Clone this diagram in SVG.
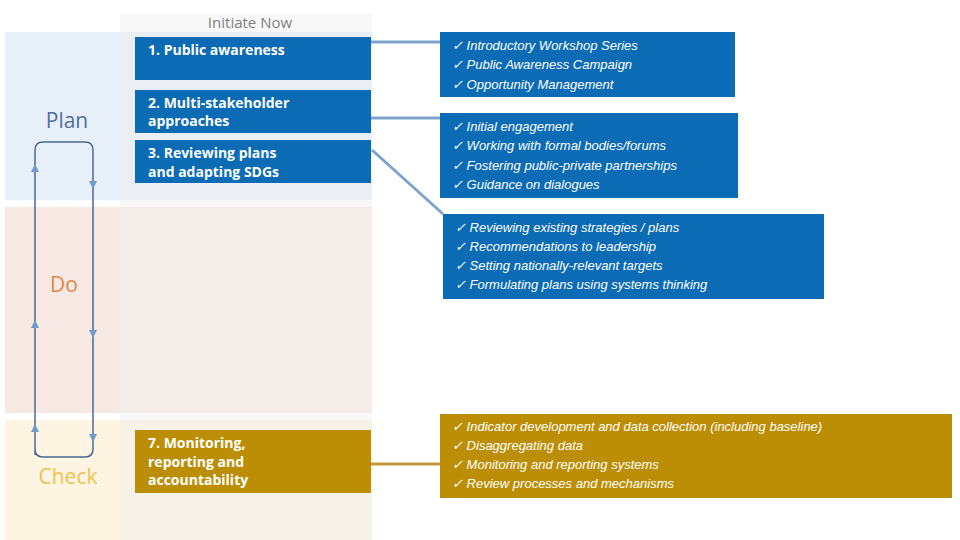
<svg xmlns="http://www.w3.org/2000/svg" width="960" height="540" viewBox="0 0 960 540">
<style>
.box{fill:#0b6bb5}
.gold{fill:#bc8e05}
.bt{font-family:"Open Sans","DejaVu Sans",sans-serif;font-weight:bold;font-size:14px;fill:#fff}
.it{font-family:"Liberation Sans",Arial,sans-serif;font-style:italic;font-size:13px;fill:#fff}
.ph{font-family:"Open Sans","DejaVu Sans",sans-serif;font-size:21px}
.ln{stroke:#7fa3cc;stroke-width:3;fill:none}
.loop{stroke:#4a6a96;stroke-width:1.5;fill:none}
</style>
<defs>
<marker id="ah" markerWidth="8" markerHeight="8" refX="4" refY="4" orient="auto" markerUnits="userSpaceOnUse"><path d="M0,0 L8,4 L0,8 z" fill="#6f9acb"/></marker>
</defs>
<rect width="960" height="540" fill="#fff"/>
<g id="bands">
<rect x="5" y="32" width="367" height="168" fill="#e7eff8"/>
<rect x="5" y="207" width="367" height="206" fill="#f6e9e3"/>
<rect x="5" y="420" width="367" height="120" fill="#fdf4e1"/>
<rect x="120" y="14" width="252" height="526" fill="#f0f0f0" opacity="0.45"/>
<text x="250" y="28" text-anchor="middle" font-family="Open Sans,DejaVu Sans,sans-serif" font-size="15" fill="#808080">Initiate Now</text>
<text class="ph" x="67" y="128" text-anchor="middle" fill="#51709e">Plan</text>
<text class="ph" x="64" y="292" text-anchor="middle" fill="#e0874a">Do</text>
<text class="ph" x="68" y="484" text-anchor="middle" fill="#efc14e">Check</text>
</g>
<g id="loop">
<path class="loop" d="M35,455 V150 Q35,142 43,142 H85 Q93,142 93,150 V449 Q93,457 85,457 H43 Q35,457 35,449"/>
<path d="M31,172 L35,164 L39,172 z M31,328 L35,320 L39,328 z M31,432 L35,424 L39,432 z" fill="#6f9acb"/>
<path d="M89,181 L93,189 L97,181 z M89,330 L93,338 L97,330 z M89,434 L93,442 L97,434 z" fill="#6f9acb"/>
</g>
<g id="n1"><rect class="box" x="135" y="37" width="236" height="43"/><text class="bt" x="148" y="55">1. Public awareness</text></g>
<g id="n2"><rect class="box" x="135" y="90" width="236" height="43"/><text class="bt" x="148" y="108">2. Multi-stakeholder</text><text class="bt" x="148" y="126">approaches</text></g>
<g id="n3"><rect class="box" x="135" y="140" width="236" height="43"/><text class="bt" x="148" y="158">3. Reviewing plans</text><text class="bt" x="148" y="177">and adapting SDGs</text></g>
<g id="n7"><rect class="gold" x="135" y="430" width="236" height="63"/><text class="bt" x="148" y="448">7. Monitoring,</text><text class="bt" x="148" y="467">reporting and</text><text class="bt" x="148" y="485">accountability</text></g>
<g id="connectors">
<line class="ln" x1="371" y1="42" x2="440" y2="42"/>
<line class="ln" x1="371" y1="118" x2="440" y2="118"/>
<line class="ln" x1="372" y1="150" x2="443" y2="214"/>
<line x1="371" y1="464" x2="440" y2="464" stroke="#c29a3e" stroke-width="3"/>
</g>
<g id="a">
<rect class="box" x="440" y="32" width="295" height="65"/>
<text class="it" x="452" y="50">✓  Introductory Workshop Series</text>
<text class="it" x="452" y="69">✓  Public Awareness Campaign</text>
<text class="it" x="452" y="89">✓  Opportunity Management</text>
</g>
<g id="b">
<rect class="box" x="440" y="113" width="298" height="85"/>
<text class="it" x="452" y="131">✓  Initial engagement</text>
<text class="it" x="452" y="150">✓  Working with formal bodies/forums</text>
<text class="it" x="452" y="170">✓  Fostering public-private partnerships</text>
<text class="it" x="452" y="189">✓  Guidance on dialogues</text>
</g>
<g id="c">
<rect class="box" x="443" y="214" width="381" height="85"/>
<text class="it" x="455" y="232">✓  Reviewing existing strategies / plans</text>
<text class="it" x="455" y="251">✓  Recommendations to leadership</text>
<text class="it" x="455" y="270">✓  Setting nationally-relevant targets</text>
<text class="it" x="455" y="289">✓  Formulating plans using systems thinking</text>
</g>
<g id="d">
<rect class="gold" x="440" y="414" width="512" height="84"/>
<text class="it" x="452" y="431">✓  Indicator development and data collection (including baseline)</text>
<text class="it" x="452" y="450">✓  Disaggregating data</text>
<text class="it" x="452" y="469">✓  Monitoring and reporting systems</text>
<text class="it" x="452" y="488">✓  Review processes and mechanisms</text>
</g>
</svg>
